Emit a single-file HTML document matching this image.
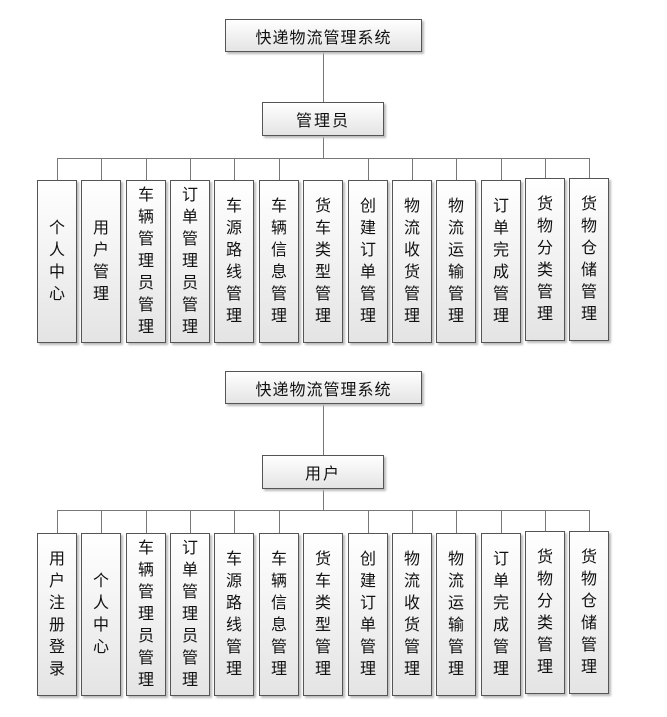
<!DOCTYPE html>
<html><head><meta charset="utf-8"><style>
body{margin:0;width:667px;height:717px;background:#fff;position:relative;overflow:hidden;font-family:"Liberation Sans","Noto Sans CJK SC",sans-serif;color:#111}
.b{position:absolute;box-sizing:border-box;border:1px solid #555;background:linear-gradient(#fff,#e4e4e4);box-shadow:2px 2px 2px #bbb;display:flex;align-items:center;justify-content:center;text-align:center;font-size:16px}
.t{width:197px;height:33px;left:225px;letter-spacing:1px}
.m{width:122px;height:34px;left:262px;letter-spacing:2px}
.l{width:40px;height:163px;line-height:22px;font-size:16px}
.h{position:absolute;height:1px;background:#777}
.v{position:absolute;width:1px;background:#777}
</style></head><body>
<div class="v" style="left:323px;top:52px;height:50px"></div>
<div class="v" style="left:323px;top:136px;height:22px"></div>
<div class="h" style="left:57px;top:158px;width:532px"></div>
<div class="v" style="left:57px;top:158px;height:22px"></div>
<div class="v" style="left:101px;top:158px;height:22px"></div>
<div class="v" style="left:146px;top:158px;height:22px"></div>
<div class="v" style="left:190px;top:158px;height:22px"></div>
<div class="v" style="left:234px;top:158px;height:22px"></div>
<div class="v" style="left:279px;top:158px;height:22px"></div>
<div class="v" style="left:368px;top:158px;height:22px"></div>
<div class="v" style="left:412px;top:158px;height:22px"></div>
<div class="v" style="left:456px;top:158px;height:22px"></div>
<div class="v" style="left:501px;top:158px;height:22px"></div>
<div class="v" style="left:545px;top:158px;height:20px"></div>
<div class="v" style="left:589px;top:158px;height:20px"></div>
<div class="b t" style="top:19px">快递物流管理系统</div>
<div class="b m" style="top:102px">管理员</div>
<div class="b l" style="left:37px;top:180px">个<br>人<br>中<br>心</div>
<div class="b l" style="left:81px;top:180px">用<br>户<br>管<br>理</div>
<div class="b l" style="left:126px;top:180px">车<br>辆<br>管<br>理<br>员<br>管<br>理</div>
<div class="b l" style="left:170px;top:180px">订<br>单<br>管<br>理<br>员<br>管<br>理</div>
<div class="b l" style="left:214px;top:180px">车<br>源<br>路<br>线<br>管<br>理</div>
<div class="b l" style="left:259px;top:180px">车<br>辆<br>信<br>息<br>管<br>理</div>
<div class="b l" style="left:303px;top:180px">货<br>车<br>类<br>型<br>管<br>理</div>
<div class="b l" style="left:348px;top:180px">创<br>建<br>订<br>单<br>管<br>理</div>
<div class="b l" style="left:392px;top:180px">物<br>流<br>收<br>货<br>管<br>理</div>
<div class="b l" style="left:436px;top:180px">物<br>流<br>运<br>输<br>管<br>理</div>
<div class="b l" style="left:481px;top:180px">订<br>单<br>完<br>成<br>管<br>理</div>
<div class="b l" style="left:525px;top:178px">货<br>物<br>分<br>类<br>管<br>理</div>
<div class="b l" style="left:569px;top:178px">货<br>物<br>仓<br>储<br>管<br>理</div>
<div class="v" style="left:323px;top:404px;height:51px"></div>
<div class="v" style="left:323px;top:488px;height:22px"></div>
<div class="h" style="left:57px;top:510px;width:532px"></div>
<div class="v" style="left:57px;top:510px;height:23px"></div>
<div class="v" style="left:101px;top:510px;height:23px"></div>
<div class="v" style="left:146px;top:510px;height:23px"></div>
<div class="v" style="left:190px;top:510px;height:23px"></div>
<div class="v" style="left:234px;top:510px;height:23px"></div>
<div class="v" style="left:279px;top:510px;height:23px"></div>
<div class="v" style="left:368px;top:510px;height:23px"></div>
<div class="v" style="left:412px;top:510px;height:23px"></div>
<div class="v" style="left:456px;top:510px;height:23px"></div>
<div class="v" style="left:501px;top:510px;height:23px"></div>
<div class="v" style="left:545px;top:510px;height:21px"></div>
<div class="v" style="left:589px;top:510px;height:21px"></div>
<div class="b t" style="top:371px">快递物流管理系统</div>
<div class="b m" style="top:455px">用户</div>
<div class="b l" style="left:37px;top:533px">用<br>户<br>注<br>册<br>登<br>录</div>
<div class="b l" style="left:81px;top:533px">个<br>人<br>中<br>心</div>
<div class="b l" style="left:126px;top:533px">车<br>辆<br>管<br>理<br>员<br>管<br>理</div>
<div class="b l" style="left:170px;top:533px">订<br>单<br>管<br>理<br>员<br>管<br>理</div>
<div class="b l" style="left:214px;top:533px">车<br>源<br>路<br>线<br>管<br>理</div>
<div class="b l" style="left:259px;top:533px">车<br>辆<br>信<br>息<br>管<br>理</div>
<div class="b l" style="left:303px;top:533px">货<br>车<br>类<br>型<br>管<br>理</div>
<div class="b l" style="left:348px;top:533px">创<br>建<br>订<br>单<br>管<br>理</div>
<div class="b l" style="left:392px;top:533px">物<br>流<br>收<br>货<br>管<br>理</div>
<div class="b l" style="left:436px;top:533px">物<br>流<br>运<br>输<br>管<br>理</div>
<div class="b l" style="left:481px;top:533px">订<br>单<br>完<br>成<br>管<br>理</div>
<div class="b l" style="left:525px;top:531px">货<br>物<br>分<br>类<br>管<br>理</div>
<div class="b l" style="left:569px;top:531px">货<br>物<br>仓<br>储<br>管<br>理</div>
</body></html>
